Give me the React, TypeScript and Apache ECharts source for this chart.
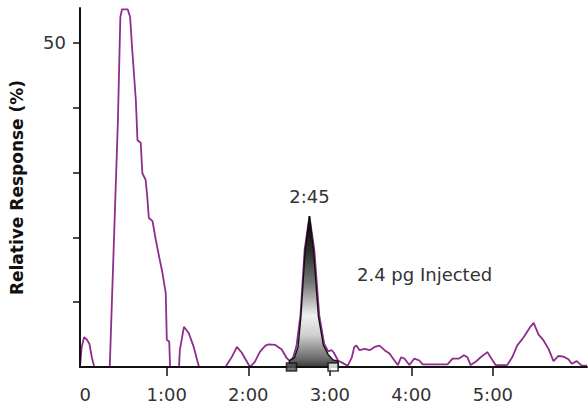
import React, { useEffect, useRef } from "react";
import * as echarts from "echarts";

// Total ion trace: retention time (min) and relative response (%)
const traceTime = [
  -0.065, -0.045, -0.015, 0.02, 0.05, 0.08, 0.11, 0.3, 0.35, 0.4, 0.43, 0.45, 0.52, 0.55, 0.57,
  0.62, 0.64, 0.68, 0.7, 0.74, 0.76, 0.78, 0.825, 0.865, 0.906, 0.947, 0.987, 1.0, 1.03, 1.04,
  1.15, 1.16, 1.21, 1.27, 1.33, 1.395, 1.72, 1.8, 1.86, 1.92, 2.02, 2.08, 2.145, 2.21, 2.25,
  2.33, 2.41, 2.47, 2.51, 2.55, 2.59, 2.64, 2.69, 2.75, 2.81, 2.87, 2.93, 2.98, 3.02, 3.05,
  3.1, 3.16, 3.22, 3.27, 3.3, 3.326, 3.366, 3.427, 3.488, 3.549, 3.61, 3.671, 3.732, 3.793,
  3.834, 3.874, 3.915, 3.976, 4.037, 4.098, 4.139, 4.444, 4.505, 4.585, 4.646, 4.688, 4.728,
  4.789, 4.85, 4.932, 4.972, 5.033, 5.176, 5.237, 5.298, 5.378, 5.46, 5.5, 5.561, 5.622,
  5.683, 5.744, 5.805, 5.866, 5.927, 5.968, 6.029, 6.09, 6.155,
];
const traceResponse = [
  0, 3.0, 4.6, 4.2, 3.6, 1.5, 0, 0, 19, 38, 54, 55.2, 55.2, 54, 50,
  41.2, 35, 34.6, 29.9, 28.9, 26.3, 23, 22.5, 19.6, 17, 14.5, 11.4, 4.2, 3.9, 0,
  0, 2.6, 6.2, 5.2, 3.1, 0, 0, 1.6, 3.1, 2.2, 0, 0.8, 2.4, 3.3, 3.5,
  3.4, 2.7, 1.4, 0.9, 1.5, 3.2, 8, 18, 23.3, 18, 8, 3.6, 2.4, 2.6, 2.2,
  1.0, 0.6, 0.2, 1.5, 3.1, 3.3, 2.6, 2.8, 2.6, 3.1, 3.3, 2.6, 2.1, 1.0,
  0.3, 1.5, 1.3, 0.3, 1.3, 1.0, 0.4, 0.4, 1.3, 1.3, 1.8, 1.5, 0.3,
  0.8, 1.5, 2.3, 1.5, 0.3, 0.3, 1.5, 3.3, 4.6, 6.2, 6.8, 5.0, 4.1,
  2.8, 0.9, 1.7, 1.6, 1.2, 0.5, 0.9, 0.2, 0.2,
];

// Target analyte peak (2.4 pg injected)
const peakTime = [2.5, 2.505, 2.565, 2.61, 2.645, 2.697, 2.75, 2.8, 2.86, 2.92, 2.98, 3.04, 3.1, 3.105];
const peakResponse = [0, 1.0, 1.4, 3.1, 7.8, 18, 23.3, 18, 7.8, 3.4, 1.9, 1.1, 0.9, 0];
const peakApexTime = 2.75;
const peakApexResponse = 23.3;
const peakApexLabel = "2:45";

// Integration start / end markers on the baseline
const integrationTime = [2.53, 3.04];
const integrationFill = ["#555555", "#ffffff"];

// Axis ticks and labels
const xTickValues = [1, 2, 3, 4, 5];
const xLabelValues = [0, 1, 2, 3, 4, 5];
const xLabelTexts = ["0", "1:00", "2:00", "3:00", "4:00", "5:00"];
const yTickValues = [10, 20, 30, 40, 50];
const yLabelValues = [50];

const annotationText = "2.4 pg Injected";
const yAxisTitle = "Relative Response (%)";

const FONT = '"DejaVu Sans", "Liberation Sans", Arial, sans-serif';
const TRACE_COLOR = "#8f2d8b";
const AXIS_COLOR = "#111111";
const TEXT_COLOR = "#333333";

export default function App() {
  const ref = useRef<HTMLDivElement>(null);

  useEffect(() => {
    if (!ref.current) return;
    const chart = echarts.init(ref.current, null, { renderer: "svg" });

    const trace = traceTime.map((t, i) => [t, traceResponse[i]]);
    const peak = peakTime.map((t, i) => [t, peakResponse[i]]);
    const markers = integrationTime.map((t, i) => ({
      value: [t, 0],
      itemStyle: { color: integrationFill[i] },
    }));

    const option: any = {
      animation: false,
      grid: { left: 77, right: 1, top: 8, bottom: 44, containLabel: false },
      xAxis: {
        type: "value",
        min: -0.065,
        max: 6.155,
        z: 5,
        axisLine: { show: true, onZero: false, lineStyle: { color: AXIS_COLOR, width: 2 } },
        axisTick: {
          show: true,
          customValues: xTickValues,
          length: 9,
          lineStyle: { color: AXIS_COLOR, width: 1.5 },
        },
        axisLabel: {
          show: true,
          customValues: xLabelValues,
          formatter: (v: number) => {
            const i = xLabelValues.indexOf(Math.round(v));
            return i >= 0 ? xLabelTexts[i] : "";
          },
          fontFamily: FONT,
          fontSize: 18,
          color: TEXT_COLOR,
          margin: 18,
        },
        splitLine: { show: false },
      },
      yAxis: {
        type: "value",
        min: 0,
        max: 55.4,
        z: 5,
        name: yAxisTitle,
        nameLocation: "middle",
        nameGap: 55,
        nameTextStyle: {
          fontFamily: FONT,
          fontWeight: "bold",
          fontSize: 17,
          color: AXIS_COLOR,
        },
        axisLine: { show: true, onZero: false, lineStyle: { color: AXIS_COLOR, width: 2 } },
        axisTick: {
          show: true,
          customValues: yTickValues,
          length: 7,
          lineStyle: { color: AXIS_COLOR, width: 1.5 },
        },
        axisLabel: {
          show: true,
          customValues: yLabelValues,
          fontFamily: FONT,
          fontSize: 18,
          color: TEXT_COLOR,
          margin: 14,
        },
        splitLine: { show: false },
      },
      series: [
        {
          name: "trace",
          type: "line",
          data: trace,
          symbol: "none",
          z: 2,
          lineStyle: { color: TRACE_COLOR, width: 1.8 },
        },
        {
          name: "peak",
          type: "line",
          data: peak,
          symbol: "none",
          z: 3,
          lineStyle: { color: AXIS_COLOR, width: 1.4 },
          areaStyle: {
            opacity: 1,
            color: new echarts.graphic.LinearGradient(0, 0, 0, 1, [
              { offset: 0, color: "#000000" },
              { offset: 0.25, color: "#333333" },
              { offset: 0.45, color: "#7a7a7a" },
              { offset: 0.66, color: "#f0f0f0" },
              { offset: 0.79, color: "#cfcfcf" },
              { offset: 0.87, color: "#9a9a9a" },
              { offset: 0.94, color: "#6e6e6e" },
              { offset: 1, color: "#3c3c3c" },
            ]),
          },
          markPoint: {
            symbol: "circle",
            symbolSize: 0,
            silent: true,
            label: {
              show: true,
              position: "top",
              distance: 11,
              formatter: peakApexLabel,
              fontFamily: FONT,
              fontSize: 18,
              color: TEXT_COLOR,
            },
            data: [{ coord: [peakApexTime, peakApexResponse] }],
          },
        },
        {
          name: "integration",
          type: "scatter",
          data: markers,
          symbol: "rect",
          symbolSize: [10, 8],
          z: 6,
          itemStyle: { borderColor: AXIS_COLOR, borderWidth: 1.5 },
        },
      ],
      graphic: [
        {
          type: "text",
          left: 357,
          top: 265,
          style: { text: annotationText, font: `18px ${FONT}`, fill: TEXT_COLOR },
        },
      ],
    };

    chart.setOption(option);
    return () => chart.dispose();
  }, []);

  return (
    <div
      ref={ref}
      style={{ position: "absolute", left: 0, top: 0, width: 588, height: 411, background: "#fff" }}
    />
  );
}
